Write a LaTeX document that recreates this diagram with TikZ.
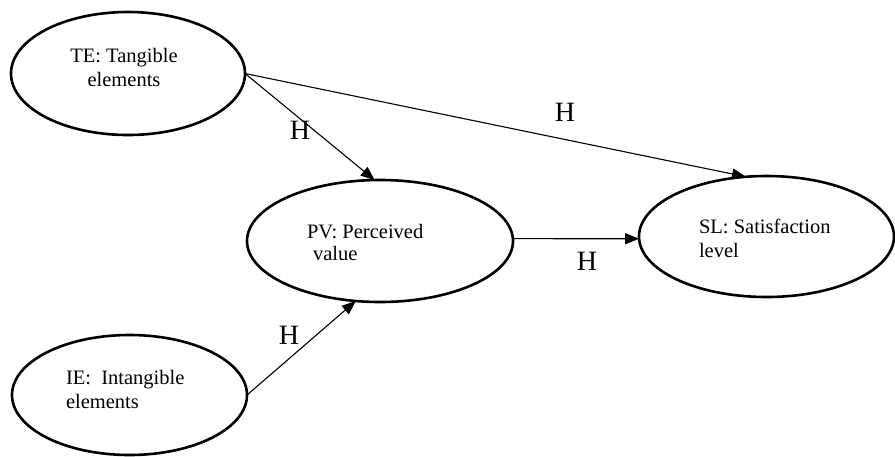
\documentclass[tikz,border=0pt]{standalone}
\usepackage{fontspec}
\setmainfont{Liberation Serif}
\usetikzlibrary{shapes.geometric,arrows.meta}
\begin{document}
\begin{tikzpicture}[x=1pt,y=-1pt,
  ell/.style={ellipse,draw=black,line width=2.6pt,inner sep=0pt,outer sep=0pt},
  txt/.style={inner sep=0pt,outer sep=0pt,font=\fontsize{20.5}{24}\selectfont},
  hlab/.style={inner sep=0pt,font=\fontsize{28}{30}\selectfont},
  conn/.style={line width=1.1pt,-{Triangle[length=14pt,width=11pt]}}]
\useasboundingbox (0,0) rectangle (895,456);
% ellipses
\node[ell,minimum width=234pt,minimum height=123pt] (TE) at (128,73.5) {};
\node[ell,minimum width=266pt,minimum height=122pt] (PV) at (380,241) {};
\node[ell,minimum width=255pt,minimum height=121pt] (SL) at (766.5,236.5) {};
\node[ell,minimum width=235pt,minimum height=120pt] (IE) at (129.5,395) {};
% texts
\node[txt,align=center,anchor=north] (TEt) at (124,48) {TE: Tangible\\elements};
\node[txt,align=left,anchor=north west,font=\fontsize{20.5}{22}\selectfont] (PVt) at (307,224) {PV: Perceived\\\hspace*{6pt}value};
\node[txt,align=left,anchor=north west] (SLt) at (699,219) {SL: Satisfaction\\level};
\node[txt,align=left,anchor=north west] (IEt) at (66,370) {IE:\ \ Intangible\\elements};
% connectors
\draw[conn] (TE.east) -- (PV.95);
\draw[conn] (TE.east) -- (SL.109);
\draw[conn] (PV.1) -- (SL.181);
\draw[conn] (IE.east) -- (PV.248);
% labels
\node[hlab] (h1) at (300,130) {H};
\node[hlab] (h2) at (565,112.5) {H};
\node[hlab] (h3) at (587,261) {H};
\node[hlab] (h4) at (289,335) {H};
\end{tikzpicture}
\end{document}
